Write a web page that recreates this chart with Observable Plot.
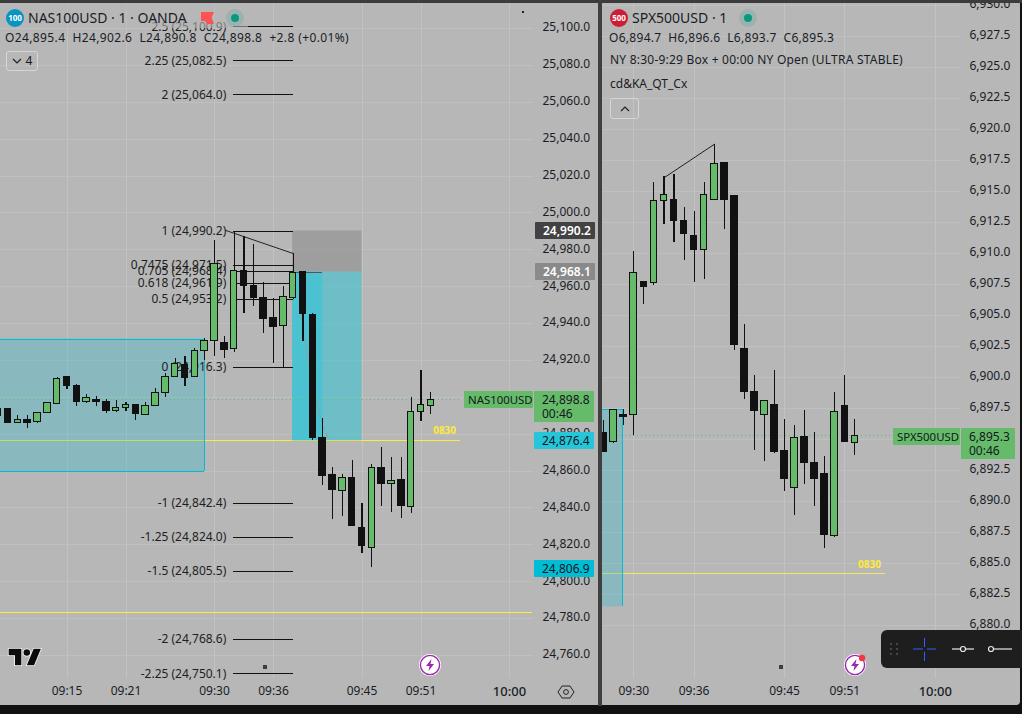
<!DOCTYPE html>
<html><head><meta charset="utf-8">
<script src="https://cdn.jsdelivr.net/npm/d3@7"></script>
<script src="https://cdn.jsdelivr.net/npm/@observablehq/plot@0.6"></script>
<style>
html,body{margin:0;padding:0;background:#111;width:1022px;height:714px;overflow:hidden;font-family:"Noto Sans",sans-serif;color:#131722}
.panel{position:absolute;top:0;height:705px;background:#b7b7b7;overflow:hidden}
.abs{position:absolute;white-space:nowrap}
.tag{position:absolute;font-size:12px;line-height:17px;height:17px;padding-left:8px;box-sizing:border-box;border-radius:1px;color:#131722;white-space:nowrap}
.leg{position:absolute;white-space:nowrap;font-size:12px;line-height:16px;color:#1a1d26;letter-spacing:.3px}
.sym{position:absolute;border-radius:50%;width:18px;height:18px;color:#fff;font-size:8px;font-weight:700;text-align:center;line-height:18px}
.btn{position:absolute;border:1px solid #d6d6d6;border-radius:3px;box-sizing:border-box;font-size:12px;text-align:center}
</style></head><body>
<div id="left" class="panel" style="left:0;width:598px"></div>
<div id="right" class="panel" style="left:602px;width:418px;border-bottom-right-radius:4px"></div>
<div id="ui"></div>
<script>
// ---------- NAS100USD 1-minute candles (time = minutes after midnight) ----------
const nasTimes=d3.range(548,593);
const nasOpen=[24889.8,24893.8,24886.0,24887.8,24886.5,24891.6,24896.3,24910.8,24906.3,24897.4,24898.7,24897.6,24892.5,24894.1,24896.0,24890.3,24895.2,24902.2,24911.1,24917.8,24911.1,24925.0,24930.7,24929.6,24926.3,24968.6,24960.5,24954.0,24943.1,24938.8,24953.8,24967.9,24944.8,24878.1,24858.0,24849.3,24856.4,24829.3,24818.4,24861.8,24852.9,24855.3,24840.6,24892.2,24895.4];
const nasHigh=[24893.8,24893.8,24890.2,24890.2,24891.6,24897.0,24910.8,24911.3,24907.0,24901.4,24900.5,24898.7,24898.3,24897.2,24896.0,24897.0,24904.6,24912.8,24921.1,24922.1,24926.3,24931.7,24985.0,24933.0,24989.2,24987.2,24982.9,24962.1,24953.4,24960.1,24978.0,24967.9,24945.3,24888.4,24861.8,24858.0,24865.7,24842.3,24863.6,24872.6,24867.2,24867.2,24899.8,24914.6,24902.6];
const nasLow=[24889.8,24886.0,24886.0,24883.3,24886.0,24891.6,24896.3,24904.4,24895.0,24896.8,24895.0,24891.4,24891.9,24892.5,24887.4,24890.3,24895.2,24900.1,24911.1,24906.0,24911.1,24920.0,24922.1,24920.9,24924.5,24945.6,24949.3,24934.8,24918.5,24915.8,24952.9,24930.4,24876.6,24852.2,24833.9,24835.5,24830.3,24815.2,24807.9,24840.8,24837.5,24834.5,24837.2,24887.1,24890.8];
const nasClose=[24893.8,24886.0,24887.8,24886.0,24891.6,24897.0,24910.1,24906.0,24897.4,24899.8,24897.4,24892.5,24894.3,24896.1,24891.1,24895.4,24902.5,24911.1,24918.2,24910.4,24925.2,24930.7,24972.4,24925.8,24968.6,24960.5,24953.8,24942.6,24938.3,24954.3,24967.5,24945.3,24878.1,24857.5,24849.9,24856.4,24830.3,24819.5,24861.8,24852.9,24854.7,24841.2,24892.2,24896.0,24898.8];
const nasTicks=d3.range(24760,25101,20);
const nasTimeTicks=[555,561,570,576,585,591];
// Fibonacci levels
const fibLevels=["2.5","2.25","2","1","0.7475","0.705","0.618","0.5","0","-1","-1.25","-1.5","-2","-2.25"];
const fibPrices=[25100.9,25082.5,25064.0,24990.2,24971.5,24968.4,24961.9,24953.2,24916.3,24842.4,24824.0,24805.5,24768.6,24750.1];
const fibText=["2.5 (25,100.9)","2.25 (25,082.5)","2 (25,064.0)","1 (24,990.2)","0.7475 (24,971.5)","0.705 (24,968.4)","0.618 (24,961.9)","0.5 (24,953.2)","0 (24,916.3)","-1 (24,842.4)","-1.25 (24,824.0)","-1.5 (24,805.5)","-2 (24,768.6)","-2.25 (24,750.1)"];
// ---------- SPX500USD 1-minute candles ----------
const spxTimes=d3.range(567,593);
const spxOpen=[6895.5,6894.8,6897.0,6897.0,6907.7,6907.6,6914.2,6914.3,6912.6,6911.4,6910.3,6914.3,6917.3,6914.6,6902.3,6898.8,6897.0,6897.8,6894.1,6891.1,6895.2,6893.1,6892.2,6887.2,6897.7,6894.7];
const spxHigh=[6896.5,6897.4,6897.4,6910.2,6907.7,6915.7,6916.2,6916.4,6913.7,6913.4,6915.7,6918.8,6917.3,6914.6,6904.3,6900.2,6898.1,6900.6,6896.6,6896.1,6897.3,6895.6,6893.6,6898.8,6900.2,6896.6];
const spxLow=[6894.0,6894.7,6896.1,6895.3,6905.9,6907.4,6912.3,6910.9,6909.4,6907.7,6907.9,6914.3,6911.9,6902.2,6898.2,6894.1,6893.2,6893.9,6890.8,6888.9,6891.4,6889.6,6886.2,6887.1,6894.8,6893.7];
const spxClose=[6894.0,6897.4,6896.8,6908.4,6907.3,6914.2,6914.7,6912.6,6911.6,6910.3,6914.7,6917.2,6914.3,6902.6,6898.8,6897.3,6898.1,6894.0,6891.8,6895.1,6893.1,6891.8,6887.3,6897.2,6894.8,6895.3];
const spxTicks=d3.range(6880,6931,2.5);
const spxTimeTicks=[570,576,585,591];

const UP="#66bb6a",DOWN="#111111",INK="#111111";
const FONT='"Noto Sans",sans-serif';
const CRISP="crispEdges";
const table=(t,o,h,l,c)=>t.map((m,i)=>({m,o:o[i],h:h[i],l:l[i],c:c[i]}));
const fmtTime=m=>`${String(Math.floor(m/60)).padStart(2,"0")}:${String(m%60).padStart(2,"0")}`;

function candles(rows,half){
  const body={x1:d=>d.m-half,x2:d=>d.m+half,y1:"o",y2:"c",stroke:INK,strokeWidth:1,shapeRendering:CRISP};
  return [
    Plot.ruleX(rows,{x:"m",y1:"l",y2:"h",stroke:INK,strokeWidth:1.1,shapeRendering:CRISP}),
    Plot.rect(rows.filter(d=>d.c>=d.o),{...body,fill:UP}),
    Plot.rect(rows.filter(d=>d.c<d.o),{...body,fill:DOWN})
  ];
}
function axes(priceTicks,fmt,timeTicks,pad){
  return [
    Plot.gridX(timeTicks.concat(600),{x:d=>d,stroke:"#c6c6c6",strokeOpacity:.7,shapeRendering:CRISP}),
    Plot.gridY(priceTicks,{y:d=>d,stroke:"#c6c6c6",strokeOpacity:.55,shapeRendering:CRISP}),
    Plot.axisY({anchor:"right",ticks:priceTicks,tickSize:0,tickPadding:pad,tickFormat:fmt,textAnchor:"start",label:null,fontSize:12,dy:-1,fill:"#1a1d26"}),
    Plot.axisX({anchor:"bottom",ticks:timeTicks,tickSize:0,tickPadding:8,tickFormat:fmtTime,label:null,fontSize:12,fill:"#1a1d26"}),
    Plot.axisX({anchor:"bottom",ticks:[600],tickSize:0,tickPadding:8,tickFormat:fmtTime,label:null,fontSize:13,fontWeight:500,fill:"#1a1d26"})
  ];
}
const baseStyle={background:"transparent",fontFamily:FONT,fontSize:"12px",color:"#1a1d26"};

// ---------- left chart ----------
const nas=table(nasTimes,nasOpen,nasHigh,nasLow,nasClose);
const fib=fibLevels.map((k,i)=>({k,p:fibPrices[i],t:fibText[i]}));
document.getElementById("left").append(Plot.plot({
  width:598,height:705,marginTop:3,marginBottom:27,marginLeft:0,marginRight:65,
  style:baseStyle,
  x:{type:"linear",domain:[570,600],range:[214,509]},
  y:{type:"linear",domain:[24760,25100],range:[655,28.04]},
  marks:[
    ...axes(nasTicks,d3.format(",.1f"),nasTimeTicks,9),
    Plot.ruleY([24783.3],{x1:()=>548,x2:()=>602.3,stroke:"#ffeb3b",strokeWidth:1,shapeRendering:CRISP}),
    Plot.ruleY([24876.4],{x1:()=>548,x2:()=>595,stroke:"#ffeb3b",strokeWidth:1,shapeRendering:CRISP}),
    Plot.rect([{}],{x1:()=>548,x2:()=>569,y1:()=>24859.8,y2:()=>24931.6,fill:"#00bcd4",fillOpacity:.25}),
    Plot.ruleY([24931.6,24859.8],{x1:()=>548,x2:()=>569,stroke:"#00bcd4",strokeWidth:1,shapeRendering:CRISP}),
    Plot.ruleX([569],{y1:()=>24859.8,y2:()=>24931.6,stroke:"#00bcd4",strokeWidth:1,shapeRendering:CRISP}),
    Plot.rect([{}],{x1:()=>577.95,x2:()=>585,y1:()=>24967.9,y2:()=>24990.2,fill:"#787878",fillOpacity:.4}),
    Plot.rect([{}],{x1:()=>577.95,x2:()=>585,y1:()=>24876.4,y2:()=>24967.9,fill:"#26c6da",fillOpacity:.5}),
    Plot.rect([{}],{x1:()=>577.95,x2:()=>581,y1:()=>24876.4,y2:()=>24967.9,fill:"#26c6da",fillOpacity:.5}),
    Plot.ruleY([24967.9],{x1:()=>577.95,x2:()=>581,stroke:"#555",strokeWidth:1,shapeRendering:CRISP}),
    Plot.text(fib,{x:()=>571.2,y:"p",text:"t",textAnchor:"end",fontSize:12,fill:"#1e1e1e"}),
    Plot.ruleY(fib,{y:"p",x1:()=>571.93,x2:()=>578.04,stroke:"#111",strokeWidth:1,shapeRendering:CRISP}),
    Plot.line([{m:571.1,p:24990.6},{m:578,p:24978}],{x:"m",y:"p",stroke:"#222",strokeWidth:1}),
    Plot.ruleY([24898.8],{x1:()=>548,x2:()=>594.9,stroke:UP,strokeWidth:1,strokeDasharray:"1,3",shapeRendering:CRISP}),
    Plot.line([{m:578.6,p:24950.9},{m:579.4,p:24923.8},{m:580.8,p:24887.4},{m:581.5,p:24878.4}],{x:"m",y:"p",stroke:"#9a9a9a",strokeWidth:1,strokeDasharray:"4,3"}),
    ...candles(nas,.33),
    Plot.text(["0830"],{x:()=>593.4,y:()=>24876.4,dy:-10,text:d=>d,fill:"#ffeb3b",fontSize:10,fontWeight:700})
  ]
}));

// ---------- right chart ----------
const spx=table(spxTimes,spxOpen,spxHigh,spxLow,spxClose);
document.getElementById("right").append(Plot.plot({
  width:418,height:705,marginTop:0,marginBottom:27,marginLeft:0,marginRight:59,
  style:baseStyle,
  x:{type:"linear",domain:[570,600],range:[31.3,332.8]},
  y:{type:"linear",domain:[6880,6930],range:[625,5]},
  marks:[
    ...axes(spxTicks,d3.format(",.1f"),spxTimeTicks,8),
    Plot.ruleY([6884.17],{x1:()=>566,x2:()=>595,stroke:"#f2e85a",strokeWidth:1,shapeRendering:CRISP}),
    Plot.rect([{}],{x1:()=>566,x2:()=>568.9,y1:()=>6881.5,y2:()=>6897.4,fill:"#00bcd4",fillOpacity:.25}),
    Plot.ruleY([6897.4],{x1:()=>566,x2:()=>568.9,stroke:"#00bcd4",strokeWidth:1,shapeRendering:CRISP}),
    Plot.ruleX([568.9],{y1:()=>6881.5,y2:()=>6897.4,stroke:"#00bcd4",strokeWidth:1,shapeRendering:CRISP}),
    Plot.ruleY([6895.3],{x1:()=>566,x2:()=>595.8,stroke:UP,strokeWidth:1,strokeDasharray:"1,3",shapeRendering:CRISP}),
    Plot.line([{m:573,p:6916.1},{m:578,p:6918.8}],{x:"m",y:"p",stroke:"#222",strokeWidth:1}),
    ...candles(spx,.33),
    Plot.text(["0830"],{x:()=>593.45,y:()=>6884.17,dy:-9,text:d=>d,fill:"#ffeb3b",fontSize:10,fontWeight:700})
  ]
}));

// ---------- chrome: tags, legends, toolbar ----------
const tags=[
 ["24,990.2",535,221.5,60,"#424242","#fff",600],
 ["24,968.1",535,263,60,"#8a8a8a","#fff",600],
 ["NAS100USD",464,391,69,UP,"#131722",400],
 ["24,876.4",534,432,60,"#26c6da","#131722",400],
 ["24,806.9",534,560,60,"#00bcd4","#131722",400],
 ["SPX500USD",893,428,67,UP,"#131722",400]
];
const twoLine=[["24,898.8",534,391,60],["6,895.3",961,428,54]];
const ui=document.getElementById("ui");
let html=`<div class="abs" style="left:0;top:0;width:1022px;height:3px;background:#3c3c3c"></div>
<div class="abs" style="left:598px;top:0;width:4px;height:706px;background:#3f3f3f"></div>
<div class="abs" style="left:0;top:3px;width:248px;height:25px;background:rgba(183,183,183,.6)"></div>`;
for(const [t,x,y,w,bg,fg,fw] of tags){
  html+=`<div class="tag" style="left:${x}px;top:${y}px;width:${w}px;background:${bg};color:${fg};font-weight:${fw};${t.endsWith("USD")?"padding-left:4px;font-size:11.4px;":""}">${t}</div>`;
}
for(const [t,x,y,w] of twoLine){
  html+=`<div class="tag" style="left:${x}px;top:${y}px;width:${w}px;height:31px;background:${UP}">${t}<br><span style="position:relative;top:-3px">00:46</span></div>`;
}
html+=`
<div class="sym" style="left:6px;top:9px;background:#0a94c2">100</div>
<div class="leg" style="left:28px;top:8px;font-size:14px;line-height:20px;letter-spacing:0">NAS100USD · 1 · OANDA</div>
<svg class="abs" style="left:201px;top:11px" width="14" height="14"><path d="M0 1H13L10.5 6.5L13 13H6L4 10H0Z" fill="#ff5252"/></svg>
<div class="abs" style="left:226px;top:9px;width:18px;height:18px;border-radius:50%;background:rgba(8,153,129,.15)"></div>
<div class="abs" style="left:231px;top:14px;width:8px;height:8px;border-radius:50%;background:#089981"></div>
<div class="leg" style="left:5px;top:30px;letter-spacing:.38px"><span>O24,895.4</span>&nbsp;&nbsp;<span>H24,902.6</span>&nbsp;&nbsp;<span>L24,890.8</span>&nbsp;&nbsp;<span>C24,898.8</span>&nbsp;&nbsp;<span>+2.8 (+0.01%)</span></div>
<div class="btn" style="left:6px;top:51px;width:32px;height:20px;line-height:18px"><svg width="10" height="6" style="margin-right:4px;vertical-align:1px"><path d="M1 1L5 5L9 1" fill="none" stroke="#222" stroke-width="1.2"/></svg>4</div>

<div class="sym" style="left:610px;top:9px;background:#cc1f36">500</div>
<div class="leg" style="left:632px;top:8px;font-size:14px;line-height:20px;letter-spacing:0">SPX500USD · 1</div>
<div class="abs" style="left:739px;top:9px;width:18px;height:18px;border-radius:50%;background:rgba(8,153,129,.15)"></div>
<div class="abs" style="left:744px;top:14px;width:8px;height:8px;border-radius:50%;background:#089981"></div>
<div class="leg" style="left:609px;top:30px">O6,894.7&nbsp;&nbsp;H6,896.6&nbsp;&nbsp;L6,893.7&nbsp;&nbsp;C6,895.3</div>
<div class="leg" style="left:610px;top:52px;letter-spacing:.22px">NY 8:30-9:29 Box + 00:00 NY Open (ULTRA STABLE)</div>
<div class="leg" style="left:610px;top:76px;letter-spacing:0">cd&amp;KA_QT_Cx</div>
<div class="btn" style="left:610px;top:98px;width:29px;height:21px;line-height:17px"><svg width="10" height="6"><path d="M1 5L5 1L9 5" fill="none" stroke="#222" stroke-width="1.2"/></svg></div>

<svg class="abs" style="left:7px;top:647px" width="36" height="20" viewBox="-1 2 38 22"><g stroke="#fff" stroke-width="1.6" paint-order="stroke"><path d="M14 22H7V11H0V4h14z" fill="#0b0b0b"/><path d="M28 22h-8l7.5-18h8z" fill="#0b0b0b"/><circle cx="20" cy="8" r="3.6" fill="#0b0b0b"/></g></svg>
<svg class="abs" style="left:418px;top:653px" width="24" height="24"><circle cx="12" cy="12" r="11" fill="#fff"/><circle cx="12" cy="12" r="9.6" fill="none" stroke="#9c27b0" stroke-width="1.4"/><path d="M13.5 6L8 13H11.5L10.5 18L16 11H12.5Z" fill="#9c27b0"/></svg>
<svg class="abs" style="left:843px;top:653px" width="26" height="24"><circle cx="12" cy="12" r="11" fill="#fff"/><circle cx="12" cy="12" r="9.6" fill="none" stroke="#9c27b0" stroke-width="1.4"/><path d="M13.5 6L8 13H11.5L10.5 18L16 11H12.5Z" fill="#9c27b0"/><circle cx="19" cy="5" r="3.2" fill="#f23645"/></svg>
<div class="abs" style="left:263px;top:665px;width:4px;height:4px;background:#3d3d46"></div>
<div class="abs" style="left:779px;top:665px;width:4px;height:4px;background:#3d3d46"></div>
<div class="abs" style="left:522px;top:11px;width:2px;height:2px;background:#222"></div>
<svg class="abs" style="left:557px;top:683px" width="18" height="18"><path d="M5 3H13L17 9L13 15H5L1 9Z" fill="none" stroke="#222" stroke-width="1"/><circle cx="9" cy="9" r="2.4" fill="none" stroke="#222"/></svg>

<div class="abs" style="left:881px;top:630px;width:141px;height:38px;background:#1e1e1e;border-radius:6px 0 0 6px"></div>
<svg class="abs" style="left:881px;top:630px" width="141" height="38">
 <g fill="#555"><circle cx="10" cy="14" r="1"/><circle cx="16" cy="14" r="1"/><circle cx="10" cy="19" r="1"/><circle cx="16" cy="19" r="1"/><circle cx="10" cy="24" r="1"/><circle cx="16" cy="24" r="1"/></g>
 <g stroke="#2962ff" stroke-width="1"><path d="M32 19H42M46 19H55M43.5 8V17M43.5 22V31"/></g>
 <g stroke="#e8e8e8" stroke-width="1.2" fill="#1e1e1e"><path d="M71 19H93"/><circle cx="82" cy="19" r="2.5"/><path d="M110 19H131"/><circle cx="110" cy="19" r="2.5"/></g>
</svg>`;
ui.innerHTML=html;
</script>
</body></html>
